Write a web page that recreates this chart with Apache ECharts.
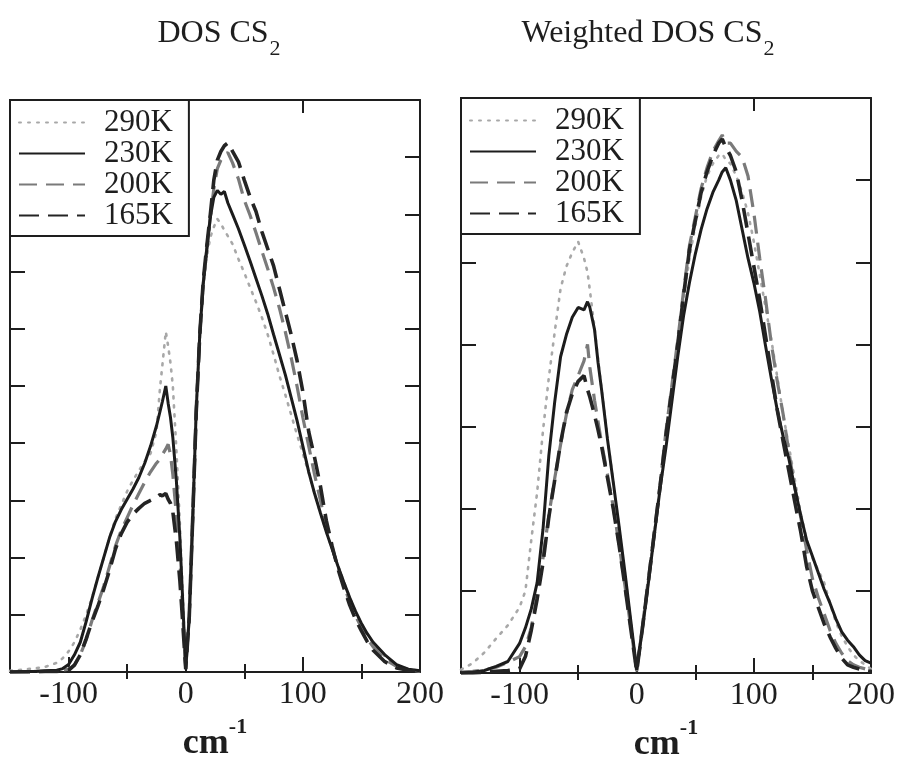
<!DOCTYPE html>
<html>
<head>
<meta charset="utf-8">
<script src="https://cdn.jsdelivr.net/npm/echarts@6/dist/echarts.min.js"></script>
<style>
  html, body { margin: 0; padding: 0; background: #fff; }
  #chart { width: 898px; height: 757px; }
</style>
</head>
<body>
<div id="chart"></div>
<script>
// ---- Data: density of states of liquid CS2 at four temperatures ----
const temperatures = ['290K', '230K', '200K', '165K'];

// Plain DOS, wavenumber grid (cm^-1)
const waveDos = [-150,-140,-130,-120,-110, -105,-100,-95,-90,-85, -80,-75,-70,-65,-60,
  -55,-50,-45,-40,-35, -30,-25,-22,-20,-17, -15,-13,-11,-8,-5, -3,0,3,6,9,
  12,15,18,21,24, 27,30,33,36,40, 45,50,55,60,65, 70,75,80,85,90,
  95,100,105,110,115, 120,125,130,135,140, 145,150,155,160,170, 180,190,200];

const dos290 = [0.02,0.04,0.06,0.09,0.16, 0.24,0.36,0.52,0.74,1.0, 1.3,1.65,2.0,2.35,2.68,
  2.92,3.16,3.35,3.52,3.68, 3.82,4.2,4.95,5.35,5.95, 5.7,5.4,5.0,3.9,2.6, 1.6,0.1,0.95,2.7,4.6,
  5.9,6.75,7.25,7.6,7.78, 7.92,7.84,7.72,7.62,7.48, 7.22,6.98,6.72,6.47,6.2, 5.9,5.55,5.18,4.85,4.5,
  4.15,3.82,3.48,3.12,2.78, 2.45,2.15,1.86,1.58,1.3, 1.06,0.85,0.66,0.5,0.27, 0.12,0.05,0.02];

const dos230 = [0,0.01,0.01,0.02,0.03, 0.06,0.13,0.3,0.52,0.88, 1.28,1.65,2.0,2.35,2.63,
  2.84,3.02,3.2,3.4,3.65, 3.95,4.3,4.55,4.72,5.0, 4.7,4.45,4.1,3.35,2.35, 1.45,0.05,0.95,2.7,4.6,
  5.9,6.8,7.4,7.95,8.3, 8.42,8.35,8.4,8.2,8.0, 7.75,7.47,7.18,6.88,6.58, 6.26,5.9,5.55,5.2,4.8,
  4.4,3.95,3.5,3.12,2.78, 2.45,2.15,1.85,1.57,1.3, 1.06,0.85,0.67,0.52,0.3, 0.13,0.05,0.02];

const dos200 = [0,0,0.01,0.01,0.02, 0.03,0.05,0.12,0.3,0.56, 0.9,1.2,1.5,1.85,2.2,
  2.48,2.7,2.92,3.12,3.32, 3.5,3.65,3.72,3.8,3.9, 3.98,3.8,3.45,2.75,1.95, 1.2,0.05,0.95,2.7,4.55,
  5.9,6.8,7.4,7.95,8.45, 8.8,8.95,9.05,9.08,8.9, 8.62,8.25,7.98,7.68,7.36, 7.05,6.72,6.36,5.95,5.5,
  5.0,4.45,3.95,3.45,3.0, 2.55,2.18,1.84,1.52,1.22, 0.98,0.78,0.58,0.44,0.22, 0.1,0.04,0.01];

const dos165 = [0,0,0,0.01,0.01, 0.02,0.03,0.12,0.3,0.58, 0.88,1.15,1.45,1.78,2.15,
  2.42,2.62,2.76,2.86,2.95, 3.0,3.05,3.1,3.08,3.12, 3.02,2.95,2.8,2.3,1.6, 1.0,0.05,0.95,2.7,4.55,
  5.9,6.85,7.45,8.0,8.6, 8.95,9.1,9.2,9.25,9.1, 8.92,8.6,8.3,8.05,7.7, 7.4,7.1,6.7,6.3,5.9,
  5.45,4.9,4.2,3.75,3.25, 2.65,2.2,1.8,1.47,1.17, 0.92,0.72,0.53,0.38,0.18, 0.07,0.03,0.01];

// Weighted DOS, wavenumber grid (cm^-1)
const waveWdos = [-150,-140,-130,-120,-110, -100,-95,-90,-85,-80, -75,-70,-65,-60,-55,
  -50,-45,-42,-40,-36, -33,-30,-25,-20,-15, -10,-5,0,5,10, 15,20,25,30,35,
  40,45,50,55,60, 65,70,73,76,80, 85,90,95,100,105, 110,115,120,125,130,
  135,140,145,150,155, 160,165,170,175,180, 185,190,195,200];

const wdos290 = [0.04,0.12,0.25,0.42,0.58, 0.8,1.0,1.62,2.2,2.95, 3.6,4.15,4.68,4.95,5.12,
  5.25,5.05,4.88,4.66,4.2, 3.82,3.46,2.87,2.32,1.76, 1.2,0.62,0.03,0.6,1.15, 1.72,2.3,2.88,3.45,4.02,
  4.55,5.05,5.45,5.8,6.05, 6.2,6.3,6.32,6.25,6.2, 6.05,5.85,5.6,5.25,4.85, 4.45,4.05,3.6,3.15,2.75,
  2.35,1.95,1.62,1.4,1.25, 1.1,0.85,0.62,0.45,0.32, 0.22,0.15,0.1,0.05];

const wdos230 = [0,0.01,0.03,0.08,0.14, 0.36,0.55,0.78,1.1,1.75, 2.65,3.3,3.85,4.12,4.33,
  4.45,4.42,4.52,4.45,4.18, 3.78,3.45,2.85,2.32,1.78, 1.22,0.63,0.04,0.55,1.1, 1.68,2.25,2.75,3.3,3.85,
  4.35,4.75,5.1,5.4,5.65, 5.85,6.0,6.1,6.15,6.0, 5.75,5.4,5.05,4.75,4.4, 3.98,3.58,3.2,2.88,2.6,
  2.25,1.92,1.62,1.42,1.22, 1.02,0.85,0.66,0.5,0.4, 0.32,0.22,0.15,0.12];

const wdos200 = [0.01,0.02,0.04,0.07,0.13, 0.2,0.32,0.55,0.95,1.4, 1.92,2.37,2.78,3.15,3.45,
  3.62,3.8,4.0,3.72,3.32, 3.06,2.8,2.42,2.02,1.56, 1.06,0.55,0.02,0.58,1.15, 1.72,2.3,2.95,3.5,4.05,
  4.65,5.2,5.55,5.9,6.15, 6.35,6.48,6.55,6.45,6.45, 6.35,6.28,6.05,5.6,5.05, 4.55,4.0,3.55,3.15,2.68,
  2.25,1.9,1.5,1.15,0.92, 0.72,0.52,0.36,0.24,0.15, 0.1,0.07,0.05,0.04];

const wdos165 = [0,0,0.01,0.02,0.03, 0.05,0.2,0.52,0.9,1.34, 1.9,2.35,2.8,3.17,3.4,
  3.55,3.62,3.45,3.36,3.14, 2.96,2.76,2.38,2.0,1.55, 1.05,0.53,0.02,0.56,1.12, 1.7,2.28,2.9,3.45,4.0,
  4.6,5.15,5.5,5.85,6.1, 6.3,6.45,6.5,6.4,6.3, 6.1,5.75,5.35,4.95,4.55, 4.1,3.65,3.2,2.82,2.45,
  2.08,1.72,1.3,1.0,0.8, 0.6,0.44,0.3,0.18,0.1, 0.07,0.05,0.03,0.02];

// Axis ticks
const xMajorTicks = [-100, 0, 100, 200];
const xMinorTicks = [-50, 50, 150];

// ---- Styling ----
const SERIF = '"Liberation Serif", "DejaVu Serif", serif';
const INK = '#1e1e1e';

const curveStyle = {
  '290K': { color: '#a8a8a8', width: 2.6, type: [2, 7], cap: 'round' },
  '230K': { color: '#1c1c1c', width: 3, type: 'solid' },
  '200K': { color: '#7a7a7a', width: 3.2, type: [18, 9] },
  '165K': { color: '#242424', width: 3.6, type: [20, 9] }
};
const drawOrder = ['290K', '200K', '230K', '165K'];

const panels = [
  { title: '{a|DOS CS}{s|2}', titleX: 214, grid: { left: 10, top: 100, width: 410, height: 572 },
    yMax: 10, xs: waveDos, series: { '290K': dos290, '230K': dos230, '200K': dos200, '165K': dos165 } },
  { title: '{a|Weighted DOS CS}{s|2}', titleX: 643, grid: { left: 461, top: 98, width: 410, height: 575 },
    yMax: 7, xs: waveWdos, series: { '290K': wdos290, '230K': wdos230, '200K': wdos200, '165K': wdos165 } }
];

const zip = (xs, ys) => xs.map((x, i) => [x, ys[i]]);
const frameLine = { show: true, onZero: false, lineStyle: { color: INK, width: 2 } };

const option = {
  animation: false,
  backgroundColor: '#fff',
  title: [], grid: [], xAxis: [], yAxis: [], legend: [], series: []
};

panels.forEach((p, g) => {
  option.title.push({
    text: p.title, left: p.titleX, top: 13, textAlign: 'center',
    textStyle: {
      fontWeight: 'normal',
      rich: {
        a: { fontFamily: SERIF, fontSize: 32, fontWeight: 'normal', color: INK, verticalAlign: 'top', lineHeight: 32 },
        s: { fontFamily: SERIF, fontSize: 22, fontWeight: 'normal', color: INK, verticalAlign: 'bottom', lineHeight: 42, padding: [0, 0, 0, 1] }
      }
    }
  });
  option.grid.push(Object.assign({ containLabel: false, outerBoundsMode: 'none' }, p.grid));

  const base = { gridIndex: g, type: 'value', min: -150, max: 200, splitLine: { show: false } };
  // bottom axis: long ticks, labels and name
  option.xAxis.push(Object.assign({}, base, {
    position: 'bottom',
    axisLine: frameLine,
    axisTick: { show: true, inside: true, length: 15, customValues: xMajorTicks, lineStyle: { color: INK, width: 2 } },
    axisLabel: { show: true, customValues: xMajorTicks, fontFamily: SERIF, fontSize: 32, color: INK, margin: 7 },
    name: '{c|cm}{e|-1}', nameLocation: 'middle', nameGap: 40,
    nameTextStyle: {
      rich: {
        c: { fontFamily: SERIF, fontSize: 36, fontWeight: 'bold', color: INK, verticalAlign: 'bottom', lineHeight: 46 },
        e: { fontFamily: SERIF, fontSize: 22, fontWeight: 'bold', color: INK, verticalAlign: 'top', lineHeight: 22 }
      }
    }
  }));
  // bottom axis: short ticks
  option.xAxis.push(Object.assign({}, base, {
    position: 'bottom', axisLine: { show: false },
    axisTick: { show: true, inside: true, length: 8, customValues: xMinorTicks, lineStyle: { color: INK, width: 2 } },
    axisLabel: { show: false }
  }));
  // top axis: mirrored ticks
  option.xAxis.push(Object.assign({}, base, {
    position: 'top', axisLine: frameLine,
    axisTick: { show: true, inside: true, length: 13, customValues: xMajorTicks, lineStyle: { color: INK, width: 2 } },
    axisLabel: { show: false }
  }));
  option.xAxis.push(Object.assign({}, base, {
    position: 'top', axisLine: { show: false },
    axisTick: { show: true, inside: true, length: 7, customValues: xMinorTicks, lineStyle: { color: INK, width: 2 } },
    axisLabel: { show: false }
  }));

  ['left', 'right'].forEach(side => {
    option.yAxis.push({
      gridIndex: g, type: 'value', min: 0, max: p.yMax, interval: 1, position: side,
      axisLine: frameLine,
      axisTick: { show: true, inside: true, length: 15, lineStyle: { color: INK, width: 2 } },
      axisLabel: { show: false }, splitLine: { show: false }
    });
  });

  option.legend.push({
    data: temperatures, orient: 'vertical',
    left: p.grid.left, top: p.grid.top,
    itemWidth: 66, itemHeight: 14, itemGap: 0,
    padding: [7, 16, 5, 8],
    borderColor: INK, borderWidth: 2, backgroundColor: '#fff',
    selectedMode: false,
    itemStyle: { opacity: 0 },
    textStyle: { fontFamily: SERIF, fontSize: 31, color: INK, lineHeight: 31, padding: [0, 0, 0, 14] }
  });

  drawOrder.forEach((t, k) => {
    option.series.push({
      type: 'line', name: t,
      xAxisIndex: g * 4, yAxisIndex: g * 2,
      data: zip(p.xs, p.series[t]),
      symbol: 'none', showSymbol: false, smooth: false,
      color: curveStyle[t].color,
      itemStyle: { color: curveStyle[t].color },
      lineStyle: curveStyle[t], z: 2 + k
    });
  });
});

const chart = echarts.init(document.getElementById('chart'), null, { renderer: 'canvas' });
chart.setOption(option);
</script>
</body>
</html>
